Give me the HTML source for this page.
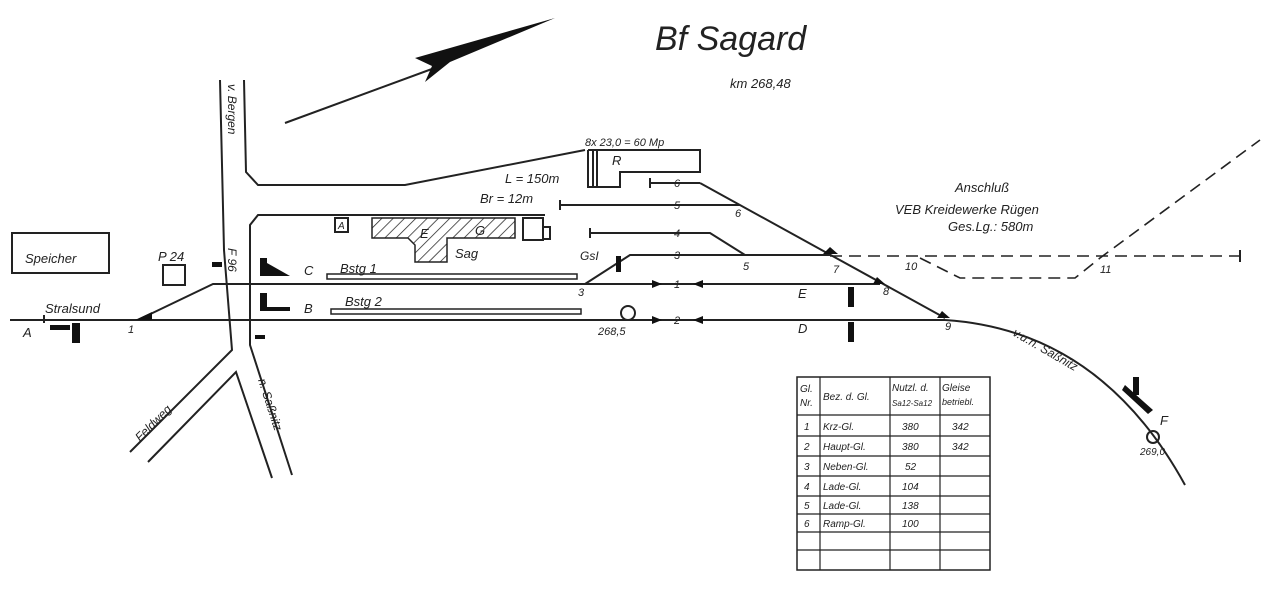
<!DOCTYPE html>
<html><head><meta charset="utf-8"><style>
html,body{margin:0;padding:0;background:#fff}
svg text{font-family:"Liberation Sans",sans-serif;font-style:italic;fill:#222}
</style></head><body>
<svg width="1280" height="591" viewBox="0 0 1280 591" xmlns="http://www.w3.org/2000/svg">
<g stroke="#222" stroke-width="2" fill="none">
<line x1="285" y1="123" x2="440" y2="66"/>
</g>
<polygon points="415,58 555,18 450,62 425,82 432,66" fill="#111"/>
<text x="655" y="50" font-size="34">Bf  Sagard</text>
<text x="730" y="88" font-size="13">km  268,48</text>
<g stroke="#222" stroke-width="2" fill="none">
<polyline points="220,80 224,250 232,350 130,452"/>
<polyline points="244,80 246,172 258,185 405,185 585,150"/>
<polyline points="545,215 258,215 250,225 250,345 292,475"/>
<polyline points="148,462 236,372 272,478"/>
<rect x="12" y="233" width="97" height="40"/>
<rect x="163" y="265" width="22" height="20"/>
<rect x="335" y="218" width="13" height="14"/>
<rect x="523" y="218" width="20" height="22"/>
<rect x="543" y="227" width="7" height="12"/>
<polyline points="588,150 700,150 700,172 620,172 620,187 588,187 588,150"/>
<line x1="593" y1="150" x2="593" y2="187"/>
<line x1="597" y1="150" x2="597" y2="187"/>
<line x1="10" y1="320" x2="945" y2="320"/>
<path d="M945,320 Q1100,330 1185,485"/>
<polyline points="140,319 213,284 880,284"/>
<line x1="700" y1="183" x2="945" y2="318"/>
<line x1="650" y1="183" x2="700" y2="183"/>
<line x1="560" y1="205" x2="740" y2="205"/>
<polyline points="590,233 710,233 745,255"/>
<polyline points="585,284 630,255 830,255"/>
<line x1="560" y1="200" x2="560" y2="210"/>
<line x1="590" y1="228" x2="590" y2="238"/>
<line x1="650" y1="178" x2="650" y2="188"/>
<line x1="44" y1="315" x2="44" y2="323"/>
<rect x="327" y="274" width="250" height="5" stroke-width="1.5"/>
<rect x="331" y="309" width="250" height="5" stroke-width="1.5"/>
<g stroke-dasharray="12,7" stroke-width="1.6">
<line x1="830" y1="256" x2="1240" y2="256"/>
<polyline points="920,258 960,278 1075,278 1100,258 1260,140"/>
</g>
<line x1="1240" y1="250" x2="1240" y2="262"/>
<circle cx="628" cy="313" r="7" fill="#fff"/>
<circle cx="1153" cy="437" r="6"/>
<rect x="797" y="377" width="193" height="193" stroke-width="1.5"/>
<g stroke-width="1.2">
<line x1="820" y1="377" x2="820" y2="570"/>
<line x1="890" y1="377" x2="890" y2="570"/>
<line x1="940" y1="377" x2="940" y2="570"/>
<line x1="797" y1="415" x2="990" y2="415"/>
<line x1="797" y1="436" x2="990" y2="436"/>
<line x1="797" y1="456" x2="990" y2="456"/>
<line x1="797" y1="476" x2="990" y2="476"/>
<line x1="797" y1="496" x2="990" y2="496"/>
<line x1="797" y1="514" x2="990" y2="514"/>
<line x1="797" y1="532" x2="990" y2="532"/>
<line x1="797" y1="550" x2="990" y2="550"/>
</g>
</g>
<defs><pattern id="h" width="8" height="8" patternUnits="userSpaceOnUse" patternTransform="rotate(45)"><line x1="0" y1="0" x2="0" y2="8" stroke="#222" stroke-width="1.5"/></pattern></defs>
<polygon points="372,218 515,218 515,238 447,238 447,262 415,262 415,245 408,238 372,238" fill="url(#h)" stroke="#222" stroke-width="1.5"/>
<g fill="#111">
<polygon points="135,320 152,320 152,312"/>
<polygon points="823,254 838,254 830,247"/>
<polygon points="873,284 885,284 877,277"/>
<polygon points="937,318 950,318 942,311"/>
<polygon points="652,280 662,284 652,288"/>
<polygon points="652,316 662,320 652,324"/>
<polygon points="703,280 693,284 703,288"/>
<polygon points="703,316 693,320 703,324"/>
<rect x="72" y="323" width="8" height="20"/>
<rect x="50" y="325" width="20" height="5"/>
<rect x="260" y="258" width="7" height="18"/>
<polygon points="267,263 290,276 267,276"/>
<rect x="260" y="293" width="7" height="18"/>
<rect x="262" y="307" width="28" height="4"/>
<rect x="848" y="287" width="6" height="20"/>
<rect x="848" y="322" width="6" height="20"/>
<rect x="1133" y="377" width="6" height="18"/>
<polygon points="1125,385 1153,410 1148,414 1122,390"/>
<rect x="212" y="262" width="10" height="5"/>
<rect x="255" y="335" width="10" height="4"/>
<rect x="616" y="256" width="5" height="16"/>
</g>
<g font-size="13">
<text x="338" y="229" font-size="10">A</text>
<text x="420" y="238" font-size="13">E</text>
<text x="475" y="235" font-size="13">G</text>
<text x="455" y="258">Sag</text>
<text x="25" y="263">Speicher</text>
<text x="158" y="261">P 24</text>
<text x="304" y="275">C</text>
<text x="304" y="313">B</text>
<text x="340" y="273">Bstg 1</text>
<text x="345" y="306">Bstg 2</text>
<text x="45" y="313">Stralsund</text>
<text x="23" y="337">A</text>
<text x="128" y="333" font-size="11">1</text>
<text x="578" y="296" font-size="11">3</text>
<text x="580" y="260" font-size="12">GsI</text>
<text x="598" y="335" font-size="11">268,5</text>
<text x="612" y="165">R</text>
<text x="585" y="146" font-size="11">8x 23,0 = 60 Mp</text>
<text x="505" y="183">L = 150m</text>
<text x="480" y="203">Br = 12m</text>
<text x="674" y="187" font-size="11">6</text>
<text x="674" y="209" font-size="11">5</text>
<text x="674" y="237" font-size="11">4</text>
<text x="674" y="259" font-size="11">3</text>
<text x="674" y="288" font-size="11">1</text>
<text x="674" y="324" font-size="11">2</text>
<text x="735" y="217" font-size="11">6</text>
<text x="743" y="270" font-size="11">5</text>
<text x="833" y="273" font-size="11">7</text>
<text x="883" y="295" font-size="11">8</text>
<text x="945" y="330" font-size="11">9</text>
<text x="905" y="270" font-size="11">10</text>
<text x="1100" y="273" font-size="11">11</text>
<text x="798" y="298">E</text>
<text x="798" y="333">D</text>
<text x="955" y="192">Anschluß</text>
<text x="895" y="214">VEB  Kreidewerke   Rügen</text>
<text x="948" y="231">Ges.Lg.: 580m</text>
<text x="1160" y="425">F</text>
<text x="1140" y="455" font-size="10">269,0</text>
<text transform="translate(228,84) rotate(90)" font-size="12">v. Bergen</text>
<text transform="translate(228,248) rotate(90)" font-size="12">F 96</text>
<text transform="translate(258,380) rotate(72)" font-size="12">n. Saßnitz</text>
<text transform="translate(140,442) rotate(-45)" font-size="12">Feldweg</text>
<text transform="translate(1012,335) rotate(30)" font-size="12">v.u.n. Saßnitz</text>
</g>
<g font-size="10">
<text x="800" y="392">Gl.</text><text x="800" y="406">Nr.</text>
<text x="823" y="400">Bez. d. Gl.</text>
<text x="892" y="391">Nutzl. d.</text><text x="892" y="406" font-size="8">Sa12-Sa12</text>
<text x="942" y="391">Gleise</text><text x="942" y="405" font-size="9">betriebl.</text>
<text x="804" y="430">1</text><text x="823" y="430">Krz-Gl.</text><text x="902" y="430">380</text><text x="952" y="430">342</text>
<text x="804" y="450">2</text><text x="823" y="450">Haupt-Gl.</text><text x="902" y="450">380</text><text x="952" y="450">342</text>
<text x="804" y="470">3</text><text x="823" y="470">Neben-Gl.</text><text x="905" y="470">52</text>
<text x="804" y="490">4</text><text x="823" y="490">Lade-Gl.</text><text x="902" y="490">104</text>
<text x="804" y="509">5</text><text x="823" y="509">Lade-Gl.</text><text x="902" y="509">138</text>
<text x="804" y="527">6</text><text x="823" y="527">Ramp-Gl.</text><text x="902" y="527">100</text>
</g>
</svg>
</body></html>
